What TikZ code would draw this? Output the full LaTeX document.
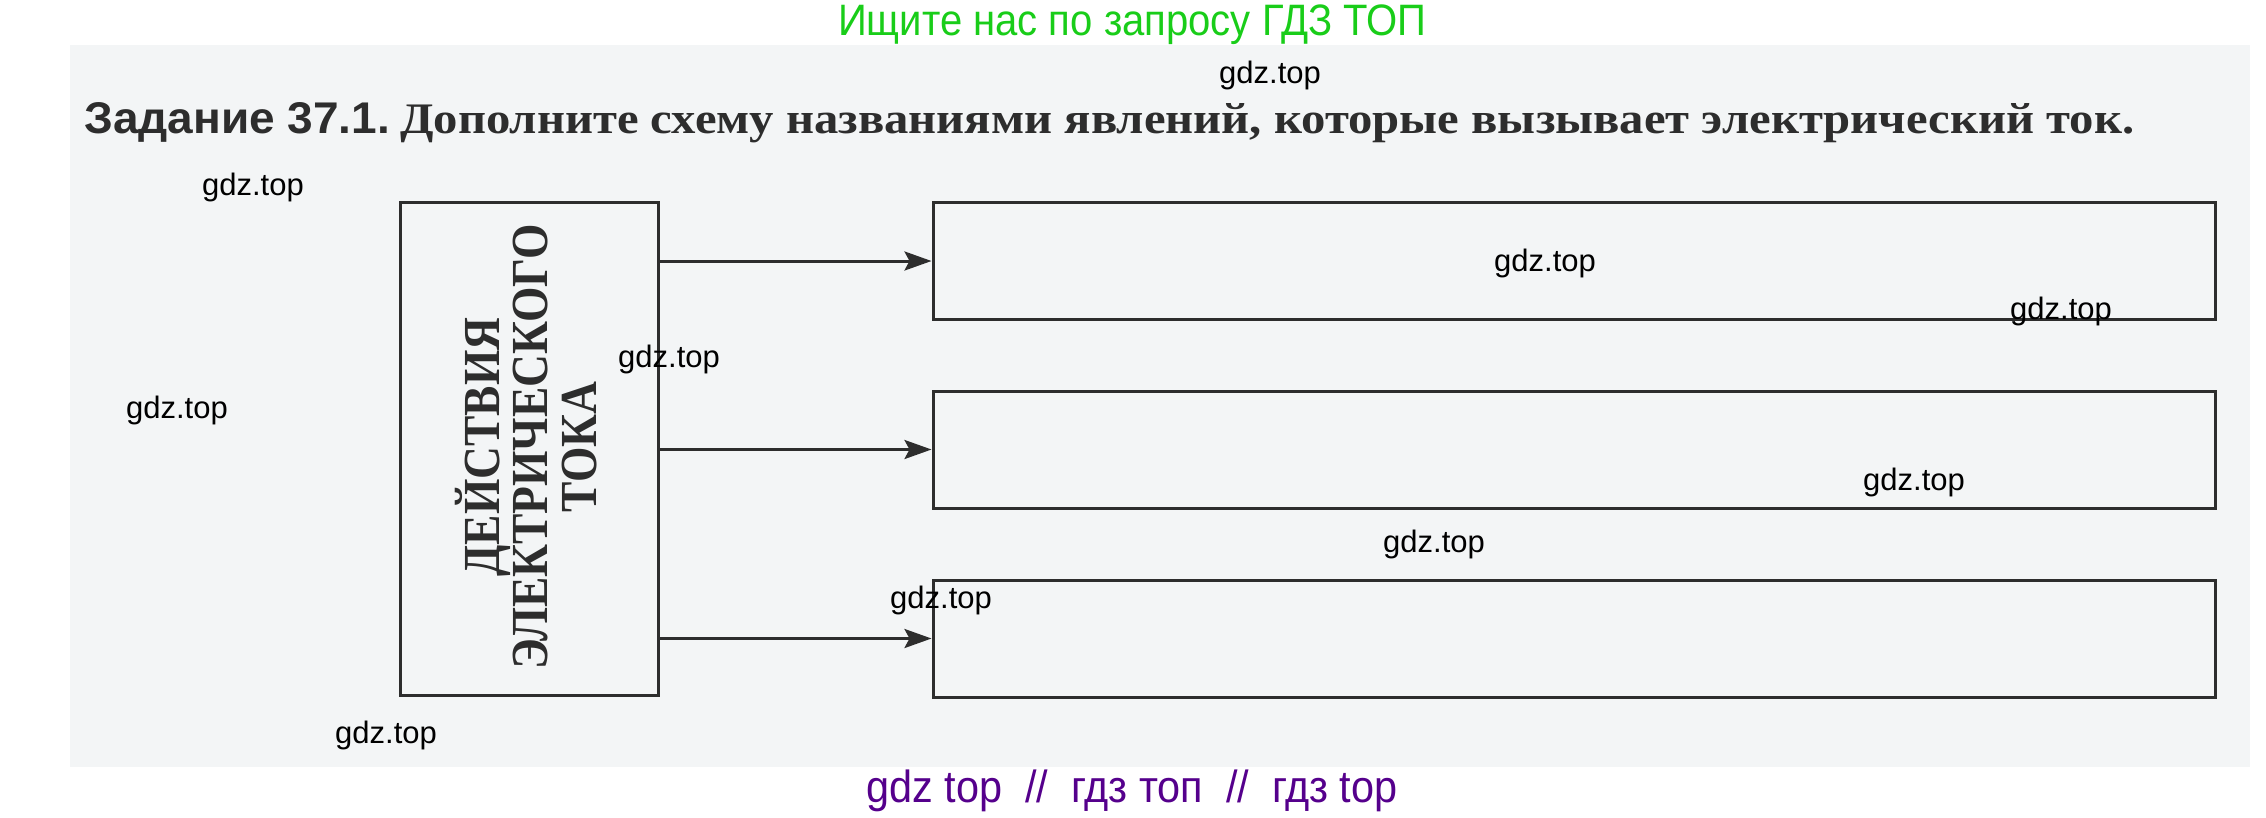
\documentclass[tikz,border=0pt]{standalone}
\usepackage{fontspec}
\usepackage{graphicx}
\setmainfont{Liberation Serif}
\newfontfamily\wmsans{Liberation Sans}
\usetikzlibrary{arrows.meta}
\definecolor{ink}{RGB}{45,45,45}
\definecolor{paper}{RGB}{243,245,246}
\definecolor{hdrgreen}{RGB}{25,205,25}
\definecolor{ftpurple}{RGB}{85,0,140}
\begin{document}
\begin{tikzpicture}[x=1pt,y=-1pt,
  box/.style={draw=ink, line width=3pt, inner sep=0pt},
  wm/.style={font=\wmsans\fontsize{31pt}{31pt}\selectfont, text=black, inner sep=0pt},
  arr/.style={draw=ink, line width=3pt, -{Stealth[length=27pt,width=19pt,inset=5pt]}}
]
\useasboundingbox (0,0) rectangle (2266,817);
\fill[paper] (70,45) rectangle (2250,767);
\node[font=\wmsans\fontsize{44pt}{44pt}\selectfont, text=hdrgreen, anchor=base, inner sep=0pt] (hdr) at (1132,35) {\scalebox{0.91}[1]{Ищите нас по запросу ГДЗ ТОП}};
\node[anchor=base west, inner sep=0pt, text=ink] (tnum) at (84,133) {\resizebox{306pt}{31pt}{\wmsans\bfseries Задание 37.1.}};
\node[anchor=base west, inner sep=0pt, text=ink] (ttext) at (400,133) {\resizebox{1734pt}{30pt}{\bfseries Дополните схему названиями явлений, которые вызывает электрический ток.}};
\node[box, minimum width=258pt, minimum height=493pt] (big) at (529,448.5) {};
\node[rotate=90, inner sep=0pt, text=ink, font=\bfseries\fontsize{52pt}{48pt}\selectfont] (bigtext) at (533,447) {\scalebox{0.875}[1]{\begin{tabular}{@{}c@{}}ДЕЙСТВИЯ\\ЭЛЕКТРИЧЕСКОГО\\ТОКА\end{tabular}}};
\node[box, minimum width=1282pt, minimum height=117pt] (r1) at (1574,261) {};
\node[box, minimum width=1282pt, minimum height=117pt] (r2) at (1574,449.5) {};
\node[box, minimum width=1282pt, minimum height=117pt] (r3) at (1574,638.5) {};
\draw[arr] (big.east |- r1.west) -- (r1.west);
\draw[arr] (big.east |- r2.west) -- (r2.west);
\draw[arr] (big.east |- r3.west) -- (r3.west);
\node[font=\wmsans\fontsize{45pt}{45pt}\selectfont, text=ftpurple, anchor=base, inner sep=0pt] (ft) at (1132,802) {\scalebox{0.92}[1]{gdz top\ \ //\ \ гдз топ\ \ //\ \ гдз top}};
\node[wm] (w1) at (1270,75) {gdz.top};
\node[wm] (w2) at (253,187) {gdz.top};
\node[wm] (w3) at (669,359) {gdz.top};
\node[wm] (w4) at (177,410) {gdz.top};
\node[wm] (w5) at (1545,263) {gdz.top};
\node[wm] (w6) at (2061,311) {gdz.top};
\node[wm] (w7) at (1434,544) {gdz.top};
\node[wm] (w8) at (941,600) {gdz.top};
\node[wm] (w9) at (1914,482) {gdz.top};
\node[wm] (w10) at (386,735) {gdz.top};
\end{tikzpicture}
\end{document}
